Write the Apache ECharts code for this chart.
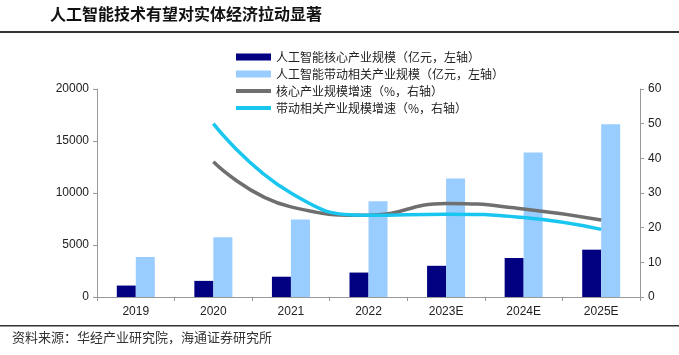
<!DOCTYPE html>
<html><head><meta charset="utf-8">
<script src="https://cdn.jsdelivr.net/npm/echarts@6/dist/echarts.min.js"></script>
<style>html,body{margin:0;padding:0;background:#fff}#c{width:679px;height:355px}</style>
</head><body><div id="c"></div>
<script>
var categories = ['2019','2020','2021','2022','2023E','2024E','2025E'];
var coreScale = [1100, 1550, 1950, 2350, 3000, 3750, 4550];
var relatedScale = [3850, 5750, 7450, 9200, 11400, 13900, 16600];
var coreGrowth = [null, 39, 26, 23.6, 27, 25.4, 22.2];
var relatedGrowth = [null, 50, 30, 23.6, 23.9, 22.9, 19.5];
var names = ['人工智能核心产业规模（亿元，左轴）','人工智能带动相关产业规模（亿元，左轴）','核心产业规模增速（%，右轴）','带动相关产业规模增速（%，右轴）'];
var titleText = '人工智能技术有望对实体经济拉动显著';
var sourceText = '资料来源：华经产业研究院，海通证券研究所';

var chart = echarts.init(document.getElementById('c'));
var axisFont = {fontFamily:'Liberation Sans, Arial', fontSize:12, color:'#222'};
var lineIcon = 'path://M0,0L35,0L35,4L0,4Z';
chart.setOption({
  animation:false,
  textStyle:{fontFamily:'Noto Sans CJK SC'},
  graphic:[
    {type:'text', left:50, top:6, style:{text:titleText, font:'bold 16px "Noto Sans CJK SC"', fill:'#111'}},
    {type:'rect', shape:{x:0,y:31,width:679,height:2}, style:{fill:'#333'}},
    {type:'rect', shape:{x:0,y:325,width:679,height:1.5}, style:{fill:'#333'}},
    {type:'text', left:12, top:331, style:{text:sourceText, font:'13px "Noto Sans CJK SC"', fill:'#333'}}
  ],
  legend:{
    orient:'vertical', left:231, top:46, itemWidth:35, itemHeight:7, itemGap:5,
    textStyle:{fontSize:12, color:'#222', fontFamily:'Noto Sans CJK SC'},
    data:[
      {name:names[0], icon:'rect'},
      {name:names[1], icon:'rect'},
      {name:names[2], icon:lineIcon},
      {name:names[3], icon:lineIcon}
    ]
  },
  grid:{left:97, right:39, top:89, bottom:58},
  xAxis:{
    type:'category', data:categories,
    axisLine:{lineStyle:{color:'#999'}},
    axisTick:{show:true, alignWithLabel:false, length:4, lineStyle:{color:'#999'}},
    axisLabel:Object.assign({margin:9}, axisFont)
  },
  yAxis:[
    {type:'value', min:0, max:20000, interval:5000, splitLine:{show:false},
     axisLine:{show:true, lineStyle:{color:'#999'}}, axisTick:{show:true, length:4, lineStyle:{color:'#999'}},
     axisLabel:Object.assign({margin:8, formatter:function(v){return String(v);}}, axisFont)},
    {type:'value', min:0, max:60, interval:10, splitLine:{show:false},
     axisLine:{show:true, lineStyle:{color:'#999'}}, axisTick:{show:true, length:4, lineStyle:{color:'#999'}},
     axisLabel:Object.assign({margin:8}, axisFont)}
  ],
  series:[
    {name:names[0], type:'bar', data:coreScale, barWidth:19, barGap:'0%', itemStyle:{color:'#000080'}},
    {name:names[1], type:'bar', data:relatedScale, barWidth:19, barGap:'0%', itemStyle:{color:'#99ccff'}},
    {name:names[2], type:'line', yAxisIndex:1, data:coreGrowth, smooth:0.5, symbol:'none', z:3,
     lineStyle:{color:'#6f6f6f', width:3.5}, itemStyle:{color:'#6f6f6f'}},
    {name:names[3], type:'line', yAxisIndex:1, data:relatedGrowth, smooth:0.5, symbol:'none', z:4,
     lineStyle:{color:'#19c6ef', width:3.5}, itemStyle:{color:'#19c6ef'}}
  ]
});
</script></body></html>
